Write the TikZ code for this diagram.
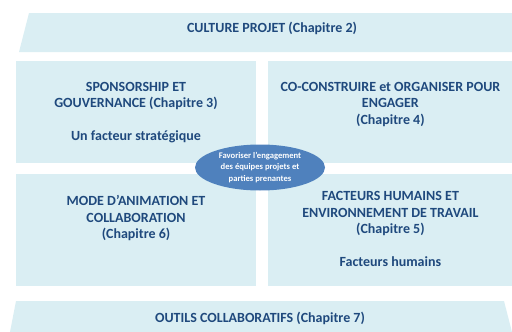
\documentclass[tikz,border=0pt]{standalone}
\usepackage{fontspec}
\setmainfont{Carlito}
\usepackage{xcolor}
\usetikzlibrary{shapes,positioning}
\definecolor{paleblue}{HTML}{DAEEF3}
\definecolor{navytext}{HTML}{1F497D}
\definecolor{hubblue}{HTML}{4F81BD}
\tikzset{
band/.style={fill=paleblue},
bandtext/.style={
  text=navytext,
  font=\bfseries\fontsize{14}{16}\selectfont,
  inner sep=0pt},
quad/.style={
  rectangle,
  fill=paleblue,
  minimum width=240pt,
  minimum height=102pt,
  inner sep=0pt},
quadtext/.style={
  text=navytext,
  font=\bfseries\fontsize{14}{16.5}\selectfont,
  align=center,
  inner sep=0pt},
hub/.style={
  ellipse,
  fill=hubblue,
  minimum width=130pt,
  minimum height=46pt,
  inner sep=0pt,
  text=white,
  align=center,
  font=\bfseries\fontsize{8.6}{11.5}\selectfont}
}

\begin{document}
\begin{tikzpicture}[x=1pt,y=-1pt]
    \useasboundingbox (0,0) rectangle (512,332);
    % bandeaux haut et bas
    \path [band] (29,13) -- (512,13) -- (512,52) -- (19,52) -- cycle;
    \node [bandtext] (culture) at (272,28.5) {CULTURE PROJET (Chapitre 2)};
    \path [band] (16,301) -- (504,301) -- (512,332) -- (10,332) -- cycle;
    \node [bandtext] (outils) at (260,318) {OUTILS COLLABORATIFS (Chapitre 7)};
    % les quatre blocs
    \node [quad] (sponsor) at (136,112) {};
    \node [quad, minimum width=244pt, right=12pt of sponsor] (coconst) {};
    \node [quad, minimum height=112pt, below=11pt of sponsor] (animation) {};
    \node [quad, minimum width=244pt, minimum height=112pt, below=11pt of coconst] (humains) {};
    \node [quadtext, below=21pt of sponsor.north] (sponsortxt)
      {SPONSORSHIP ET\\GOUVERNANCE (Chapitre 3)\\[16pt]Un facteur stratégique};
    \node [quadtext, below=21pt of coconst.north] (coconsttxt)
      {CO-CONSTRUIRE et ORGANISER POUR\\ENGAGER\\(Chapitre 4)};
    \node [quadtext, below=21pt of animation.north] (animationtxt)
      {MODE D’ANIMATION ET\\COLLABORATION\\(Chapitre 6)};
    \node [quadtext, below=17pt of humains.north] (humainstxt)
      {FACTEURS HUMAINS ET\\ENVIRONNEMENT DE TRAVAIL\\(Chapitre 5)\\[16pt]Facteurs humains};
    % ellipse centrale
    \node [hub] (engage) at (260,167.5)
      {Favoriser l’engagement\\des équipes projets et\\parties prenantes};
\end{tikzpicture}
\end{document}
